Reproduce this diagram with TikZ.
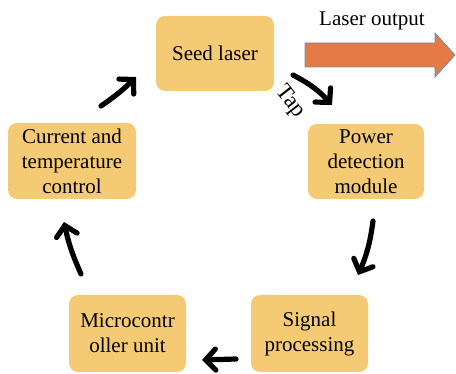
\documentclass[tikz,border=0pt]{standalone}
\usepackage{fontspec}
\setmainfont{Liberation Serif}
\usetikzlibrary{arrows.meta}
\definecolor{boxfill}{HTML}{F4CB74}
\definecolor{outfill}{HTML}{E47B46}
\definecolor{outline}{HTML}{6F8DB3}
\tikzset{
  blk/.style={fill=boxfill, rounded corners=9pt, align=center, inner sep=0pt,
    font=\fontsize{21}{25}\selectfont},
  conn/.style={line width=5.2pt, black, line cap=round,
    -{Straight Barb[length=10pt,width=21pt,line cap=round]}},
}
\begin{document}
\begin{tikzpicture}[x=1pt,y=-1pt]
\useasboundingbox (0,0) rectangle (456,374);
\node[blk, minimum width=118pt, minimum height=75pt] (seed) at (215,53.5) {Seed laser};
\node[blk, minimum width=128pt, minimum height=76pt] (cur) at (72,161) {Current and\\temperature\\control};
\node[blk, minimum width=116pt, minimum height=75pt] (pow) at (366,161.5) {Power\\detection\\module};
\node[blk, minimum width=117pt, minimum height=77pt] (mcu) at (127.5,333.5) {Microcontr\\oller unit};
\node[blk, minimum width=117pt, minimum height=77pt] (sig) at (309.5,333.5) {Signal\\processing};
% laser output arrow
\draw[fill=outfill, draw=outline, line width=0.8pt]
  (305,43) -- (435,43) -- (435,33) -- (455,55) -- (435,77) -- (435,67) -- (305,67) -- cycle;
\node[font=\fontsize{21}{25}\selectfont, anchor=base] (lo) at (372,26) {Laser output};
% connectors
\coordinate (a1s) at (293,75); \coordinate (a1e) at (332,105);
\coordinate (a2s) at (373,221); \coordinate (a2e) at (358,275);
\coordinate (a3s) at (236,359); \coordinate (a3e) at (202,360);
\coordinate (a4s) at (81,274); \coordinate (a4e) at (64,222);
\coordinate (a5s) at (101,106); \coordinate (a5e) at (136,77);
\draw[conn] (a1s) to[bend left=10] (a1e);
\draw[conn] (a2s) to[bend left=8] (a2e);
\draw[conn] (a3s) -- (a3e);
\draw[conn] (a4s) to[bend left=6] (a4e);
\draw[conn] (a5s) to[bend right=5] (a5e);
\node[font=\fontsize{23}{25}\selectfont, rotate=-52, inner sep=0pt] (tap) at (290,102) {Tap};
\end{tikzpicture}
\end{document}
